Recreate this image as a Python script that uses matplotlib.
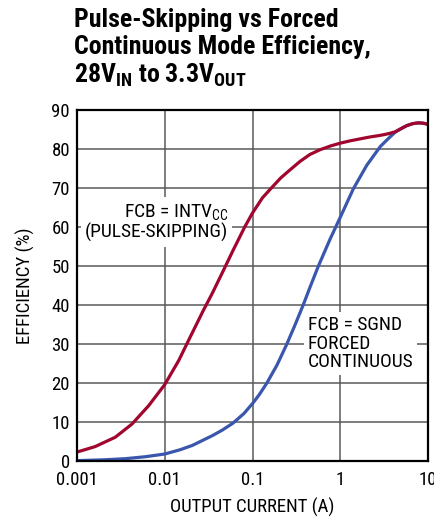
import matplotlib.pyplot as plt
import matplotlib.font_manager as fm

# output current (A) and efficiency (%)
skip_current = [0.001, 0.00161, 0.00273, 0.00424, 0.00656, 0.01, 0.01445, 0.0197, 0.0275,
                0.0348, 0.046, 0.06, 0.0815, 0.1, 0.13, 0.164, 0.21, 0.266, 0.347, 0.451,
                0.586, 0.78, 1.0, 1.3, 1.69, 2.2, 2.87, 3.5, 4.22, 5.0, 5.74, 6.7, 7.78,
                8.9, 10.0]
skip_eff = [2.3, 3.7, 6.1, 9.5, 14.2, 19.6, 25.8, 32.0, 38.6,
            43.0, 48.6, 54.0, 60.0, 63.6, 67.5, 70.0, 72.6, 74.6, 76.8, 78.6,
            79.8, 80.8, 81.5, 82.1, 82.6, 83.1, 83.5, 83.9, 84.4, 85.3, 86.0, 86.5, 86.7,
            86.6, 86.3]

fc_current = [0.001, 0.002, 0.00356, 0.006, 0.01, 0.015, 0.0206, 0.0249, 0.0348, 0.045,
              0.0598, 0.08, 0.1014, 0.12, 0.144, 0.19, 0.244, 0.3, 0.378, 0.46, 0.561,
              0.762, 1.0, 1.41, 2.0, 2.85, 3.5, 4.22, 5.0, 5.74, 6.7, 7.78, 8.9, 10.0]
fc_eff = [0.1, 0.3, 0.6, 1.1, 1.8, 2.9, 4.0, 4.9, 6.5, 7.9,
          9.7, 12.2, 14.9, 17.1, 19.8, 24.6, 29.8, 34.5, 40.0, 45.0, 49.9,
          56.8, 62.5, 69.8, 75.8, 80.6, 82.6, 84.3, 85.3,
          86.0, 86.5, 86.7, 86.6, 86.3]

y_ticks = list(range(0, 100, 10))
x_ticks = [0.001, 0.01, 0.1, 1, 10]
x_tick_labels = ["0.001", "0.01", "0.1", "1", "10"]

names = {f.name for f in fm.fontManager.ttflist}
font = "Roboto Condensed" if "Roboto Condensed" in names else "DejaVu Sans"
plt.rcParams["font.family"] = [font, "DejaVu Sans"]
plt.rcParams["mathtext.fontset"] = "custom"
plt.rcParams["mathtext.rm"] = font
plt.rcParams["mathtext.bf"] = font + ":bold"


def main():
    fig = plt.figure(figsize=(4.35, 5.23), dpi=100)
    ax = fig.add_axes([0.177, 0.1185, 0.807, 0.6712])

    ax.plot(skip_current, skip_eff, color="#a0062e", lw=2.3, zorder=4,
            solid_joinstyle="round", solid_capstyle="butt")
    ax.plot(fc_current, fc_eff, color="#3a56ad", lw=2.3, zorder=3,
            solid_joinstyle="round", solid_capstyle="butt")

    ax.set_xscale("log")
    ax.set_xlim(0.001, 10)
    ax.set_ylim(0, 90)
    ax.set_xticks(x_ticks)
    ax.set_xticklabels(x_tick_labels)
    ax.set_yticks(y_ticks)
    ax.minorticks_off()
    ax.tick_params(length=0, labelsize=13.5)
    ax.tick_params(axis="x", pad=7.5)
    ax.tick_params(axis="y", pad=5)
    ax.grid(True, color="#5a5a5a", lw=1.1)
    ax.set_axisbelow(True)
    for s in ax.spines.values():
        s.set_linewidth(1.6)
        s.set_zorder(5)

    ax.set_xlabel("OUTPUT CURRENT (A)", fontsize=13.5, labelpad=6)
    ax.set_ylabel("EFFICIENCY (%)", fontsize=13.5, labelpad=12)

    box = dict(facecolor="white", edgecolor="none", pad=3)
    ax.text(0.053, 61.2, "FCB = INTV$_{\\mathregular{CC}}$\n(PULSE-SKIPPING)", ha="right",
            va="center", fontsize=14, linespacing=1.05, bbox=box, zorder=2,
            multialignment="right")
    ax.text(0.425, 30.1, "FCB = SGND\nFORCED\nCONTINUOUS", ha="left", va="center",
            fontsize=14, linespacing=1.05, bbox=box, zorder=2)

    fig.text(0.17, 0.984, "Pulse-Skipping vs Forced\nContinuous Mode Efficiency,\n"
             "28V$_{\\mathbf{IN}}$ to 3.3V$_{\\mathbf{OUT}}$",
             ha="left", va="top", fontsize=18.6, fontweight="bold", linespacing=1.12)

    fig.savefig("out.png", dpi=100)


if __name__ == "__main__":
    main()
